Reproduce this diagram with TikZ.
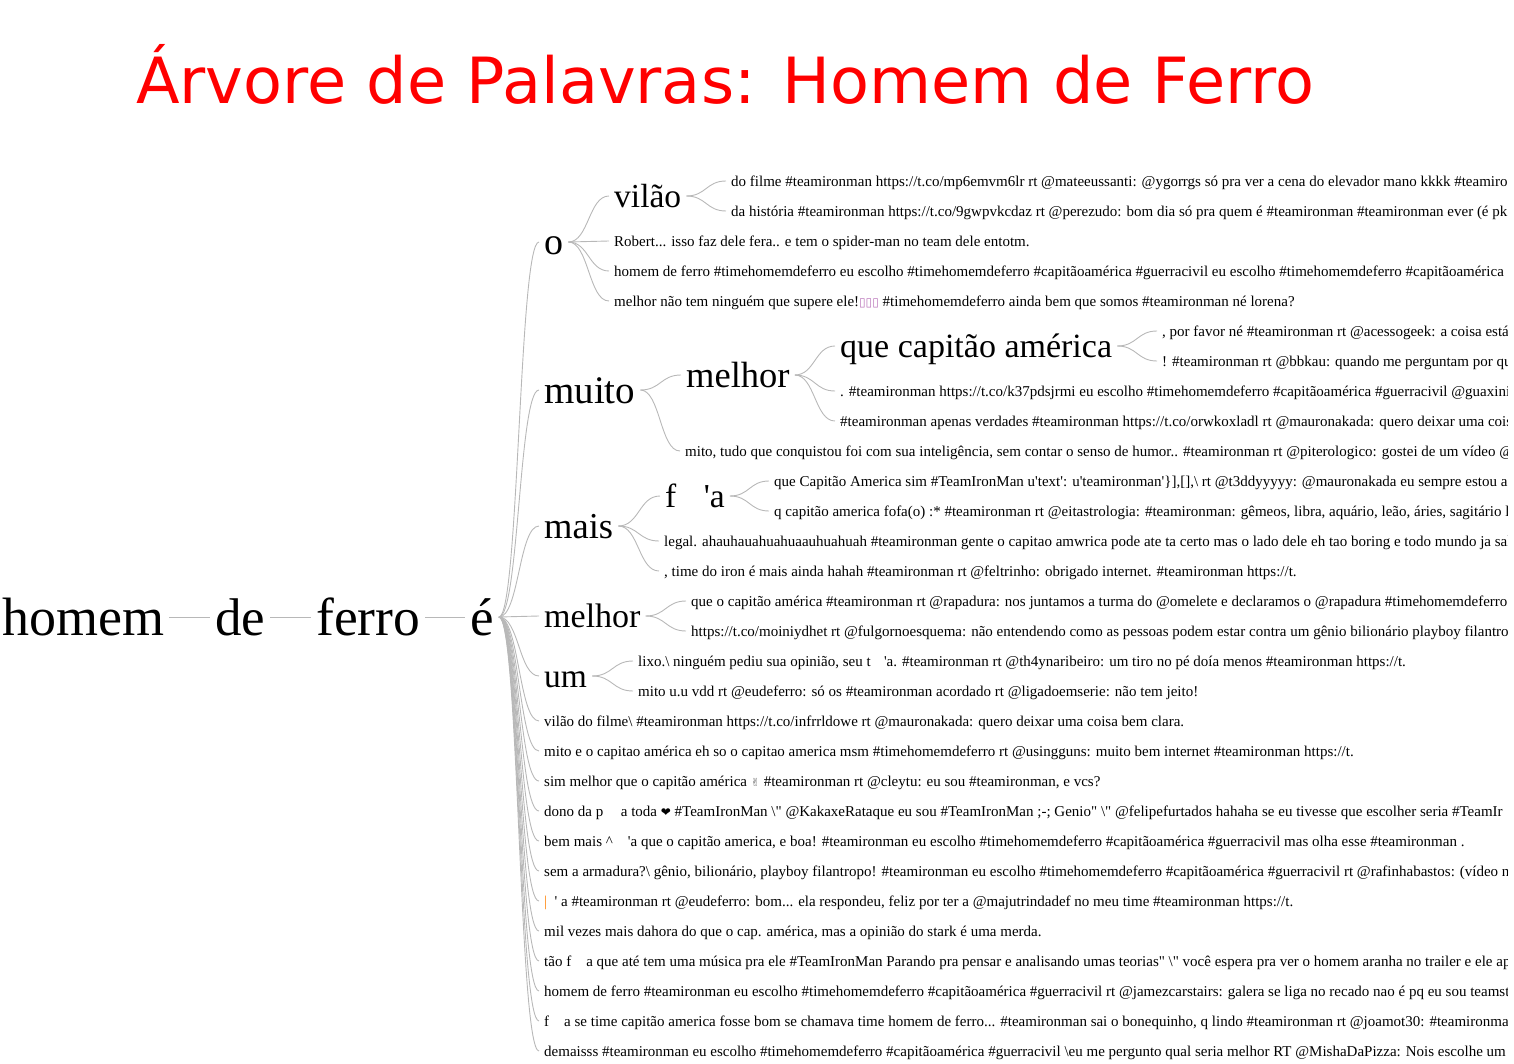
\documentclass[tikz,border=0pt]{standalone}
\usepackage{fontspec}
\setmainfont{Liberation Serif}
\newfontfamily\dv{DejaVu Sans}
\usetikzlibrary{calc}
\newcommand\qs{\textquotesingle}
\newcommand\qd{\textquotedbl}
\newcommand\bs{\textbackslash}
\newcommand\lnk[2]{\draw[link] let \p1=(#1.east), \p2=(#2.west) in (\p1) .. controls ({(\x1+\x2)/2},\y1) and ({(\x1+\x2)/2},\y2) .. (\p2);}
\tikzset{
  wt/.style={font=\fontsize{#1}{#1}\selectfont, anchor=west, inner xsep=5pt, inner ysep=0pt, text height={0.8*#1}, text depth={0.12*#1}},
  lf/.style={wt=15},
  link/.style={draw=black!28, line width=0.9pt},
}
\begin{document}
\begin{tikzpicture}[x=1pt,y=-1pt]
\useasboundingbox (0,0) rectangle (1514,1064);
\node[font=\dv\fontsize{63.7}{63.7}\selectfont, text=red, anchor=base west, inner sep=0pt] (title) at (136,104) {Árvore de Palavras: Homem de Ferro};
\begin{scope}
\clip (0,0) rectangle (1507,1064);
% root chain
\node[wt=54] (homem) at (-3,617) {homem};
\node[wt=53] (de) at (210,617) {de};
\node[wt=53.5] (ferro) at (311,617) {ferro};
\node[wt=53] (e) at (465,617) {é};
% children of e
\node[wt=38] (o) at (539,242) {o};
\node[wt=39] (muito) at (539,390) {muito};
\node[wt=36.5] (mais) at (539,526) {mais};
\node[wt=34] (melhorB) at (539,616) {melhor};
\node[wt=33.5] (um) at (539,676) {um};
\node[lf] (L19) at (539,721) {vilão do filme\bs{} \#teamironman https://t.co/infrrldowe rt @mauronakada: quero deixar uma coisa bem clara.};
\node[lf] (L20) at (539,751) {mito e o capitao américa eh so o capitao america msm \#timehomemdeferro rt @usingguns: muito bem internet \#teamironman https://t.};
\node[lf] (L21) at (539,781) {sim melhor que o capitão américa {\dv\fontsize{11}{11}\selectfont\color{black!60}✌} \#teamironman rt @cleytu: eu sou \#teamironman, e vcs?};
\node[lf] (L22) at (539,811) {dono da p\phantom{orr}a toda {\dv\fontsize{12}{12}\selectfont ❤} \#TeamIronMan \bs\qd{} @KakaxeRataque eu sou \#TeamIronMan ;-; Genio\qd{} \bs\qd{} @felipefurtados hahaha se eu tivesse que escolher seria \#TeamIr};
\node[lf] (L23) at (539,841) {bem mais \textasciicircum\phantom{od}\qs a que o capitão america, e boa! \#teamironman eu escolho \#timehomemdeferro \#capitãoamérica \#guerracivil mas olha esse \#teamironman .};
\node[lf] (L24) at (539,871) {sem a armadura?\bs{} gênio, bilionário, playboy filantropo! \#teamironman eu escolho \#timehomemdeferro \#capitãoamérica \#guerracivil rt @rafinhabastos: (vídeo n};
\node[lf] (L25) at (539,901) {{\color{orange}\textbar}\phantom{o}\qs\ a \#teamironman rt @eudeferro: bom... ela respondeu, feliz por ter a @majutrindadef no meu time \#teamironman https://t.};
\node[lf] (L26) at (539,931) {mil vezes mais dahora do que o cap. américa, mas a opinião do stark é uma merda.};
\node[lf] (L27) at (539,961) {tão f\phantom{od}a que até tem uma música pra ele \#TeamIronMan Parando pra pensar e analisando umas teorias\qd{} \bs\qd{} você espera pra ver o homem aranha no trailer e ele ap};
\node[lf] (L28) at (539,991) {homem de ferro \#teamironman eu escolho \#timehomemdeferro \#capitãoamérica \#guerracivil rt @jamezcarstairs: galera se liga no recado nao é pq eu sou teamst};
\node[lf] (L29) at (539,1021) {f\phantom{od}a se time capitão america fosse bom se chamava time homem de ferro... \#teamironman sai o bonequinho, q lindo \#teamironman rt @joamot30: \#teamironma};
\node[lf] (L30) at (539,1051) {demaisss \#teamironman eu escolho \#timehomemdeferro \#capitãoamérica \#guerracivil \bs eu me pergunto qual seria melhor RT @MishaDaPizza: Nois escolhe um};
% children of o
\node[wt=33.5] (vilao) at (609,196) {vilão};
\node[lf] (L3) at (609,241) {Robert... isso faz dele fera.. e tem o spider-man no team dele entotm.};
\node[lf] (L4) at (609,271) {homem de ferro \#timehomemdeferro eu escolho \#timehomemdeferro \#capitãoamérica \#guerracivil eu escolho \#timehomemdeferro \#capitãoamérica};
\node[lf] (L5) at (609,301) {melhor não tem ninguém que supere ele!{\dv\fontsize{12}{12}\selectfont\color{violet!55}▯▯▯} \#timehomemdeferro ainda bem que somos \#teamironman né lorena?};
\node[lf] (L1) at (726,181) {do filme \#teamironman https://t.co/mp6emvm6lr rt @mateeussanti: @ygorrgs só pra ver a cena do elevador mano kkkk \#teamiro};
\node[lf] (L2) at (726,211) {da história \#teamironman https://t.co/9gwpvkcdaz rt @perezudo: bom dia só pra quem é \#teamironman \#teamironman ever (é pk};
% children of muito
\node[wt=36.5] (melhorA) at (681,375) {melhor};
\node[lf] (L10) at (680,451) {mito, tudo que conquistou foi com sua inteligência, sem contar o senso de humor.. \#teamironman rt @piterologico: gostei de um vídeo @};
\node[wt=34] (qca) at (835,346) {que capitão américa};
\node[lf] (L8) at (835,391) {. \#teamironman https://t.co/k37pdsjrmi eu escolho \#timehomemdeferro \#capitãoamérica \#guerracivil @guaxini};
\node[lf] (L9) at (835,421) {\#teamironman apenas verdades \#teamironman https://t.co/orwkoxladl rt @mauronakada: quero deixar uma cois};
\node[lf] (L6) at (1157,331) {, por favor né \#teamironman rt @acessogeek: a coisa está};
\node[lf] (L7) at (1157,361) {! \#teamironman rt @bbkau: quando me perguntam por qu};
% children of mais
\node[wt=33.5] (foda) at (660,496) {f\phantom{o}\makebox[0.5em][r]{\qs}a};
\node[lf] (L13) at (659,541) {legal. ahauhauahuahuaauhuahuah \#teamironman gente o capitao amwrica pode ate ta certo mas o lado dele eh tao boring e todo mundo ja sal};
\node[lf] (L14) at (659,571) {, time do iron é mais ainda hahah \#teamironman rt @feltrinho: obrigado internet. \#teamironman https://t.};
\node[lf] (L11) at (769,481) {que Capitão America sim \#TeamIronMan u\qs text\qs: u\qs teamironman\qs\}],[],\bs{} rt @t3ddyyyyy: @mauronakada eu sempre estou a};
\node[lf] (L12) at (769,511) {q capitão america fofa(o) :* \#teamironman rt @eitastrologia: \#teamironman: gêmeos, libra, aquário, leão, áries, sagitário l};
% children of melhorB and um
\node[lf] (L15) at (686,601) {que o capitão américa \#teamironman rt @rapadura: nos juntamos a turma do @omelete e declaramos o @rapadura \#timehomemdeferro.};
\node[lf] (L16) at (686,631) {https://t.co/moiniydhet rt @fulgornoesquema: não entendendo como as pessoas podem estar contra um gênio bilionário playboy filantro};
\node[lf] (L17) at (633,661) {lixo.\bs{} ninguém pediu sua opinião, seu t\phantom{os}\qs a. \#teamironman rt @th4ynaribeiro: um tiro no pé doía menos \#teamironman https://t.};
\node[lf] (L18) at (633,691) {mito u.u vdd rt @eudeferro: só os \#teamironman acordado rt @ligadoemserie: não tem jeito!};
% connectors
\lnk{homem}{de}
\lnk{de}{ferro}
\lnk{ferro}{e}
\foreach \c in {o,muito,mais,melhorB,um,L19,L20,L21,L22,L23,L24,L25,L26,L27,L28,L29,L30} {\lnk{e}{\c}}
\foreach \c in {vilao,L3,L4,L5} {\lnk{o}{\c}}
\foreach \c in {L1,L2} {\lnk{vilao}{\c}}
\foreach \c in {melhorA,L10} {\lnk{muito}{\c}}
\foreach \c in {qca,L8,L9} {\lnk{melhorA}{\c}}
\foreach \c in {L6,L7} {\lnk{qca}{\c}}
\foreach \c in {foda,L13,L14} {\lnk{mais}{\c}}
\foreach \c in {L11,L12} {\lnk{foda}{\c}}
\foreach \c in {L15,L16} {\lnk{melhorB}{\c}}
\foreach \c in {L17,L18} {\lnk{um}{\c}}
\end{scope}
\end{tikzpicture}
\end{document}
